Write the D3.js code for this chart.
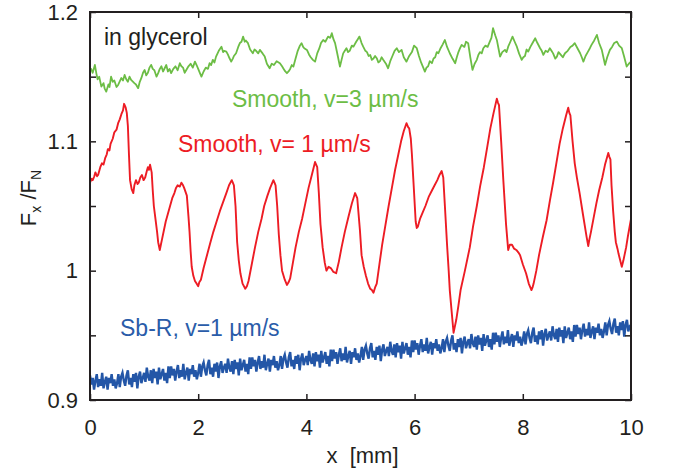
<!DOCTYPE html>
<html>
<head>
<meta charset="utf-8">
<script src="https://cdn.jsdelivr.net/npm/d3@7"></script>
<style>
  body { margin: 0; background: #fff; }
  text { font-family: "Liberation Sans", Arial, sans-serif; }
</style>
</head>
<body>
<svg id="chart" width="676" height="470"></svg>
<script>
// ---- data ----
const xTicks = [0, 2, 4, 6, 8, 10];
const yTicks = [0.9, 0.95, 1.0, 1.05, 1.1, 1.15, 1.2];
const yTickLabels = {"0.9": "0.9", "1": "1", "1.1": "1.1", "1.2": "1.2"};

const greenPoints = [[0.00,1.1552],[0.02,1.1560],[0.05,1.1530],[0.09,1.1591],[0.12,1.1520],[0.14,1.1480],[0.17,1.1500],[0.21,1.1423],[0.25,1.1450],[0.27,1.1410],[0.30,1.1384],[0.34,1.1440],[0.36,1.1420],[0.39,1.1500],[0.42,1.1460],[0.45,1.1470],[0.49,1.1420],[0.52,1.1436],[0.58,1.1490],[0.61,1.1470],[0.64,1.1513],[0.67,1.1480],[0.70,1.1460],[0.73,1.1500],[0.76,1.1475],[0.82,1.1450],[0.85,1.1440],[0.89,1.1411],[0.92,1.1460],[0.95,1.1490],[0.98,1.1530],[1.01,1.1552],[1.04,1.1510],[1.07,1.1530],[1.10,1.1570],[1.13,1.1591],[1.16,1.1560],[1.19,1.1550],[1.23,1.1500],[1.26,1.1527],[1.29,1.1560],[1.32,1.1580],[1.35,1.1540],[1.38,1.1565],[1.41,1.1590],[1.44,1.1540],[1.47,1.1560],[1.50,1.1527],[1.54,1.1560],[1.58,1.1580],[1.62,1.1550],[1.66,1.1604],[1.69,1.1580],[1.72,1.1570],[1.75,1.1530],[1.78,1.1552],[1.82,1.1580],[1.86,1.1600],[1.90,1.1570],[1.94,1.1616],[1.97,1.1590],[2.00,1.1560],[2.03,1.1530],[2.06,1.1500],[2.10,1.1540],[2.14,1.1570],[2.18,1.1560],[2.21,1.1604],[2.24,1.1590],[2.27,1.1630],[2.30,1.1610],[2.33,1.1655],[2.38,1.1700],[2.43,1.1732],[2.46,1.1690],[2.48,1.1700],[2.52,1.1694],[2.55,1.1670],[2.57,1.1650],[2.61,1.1616],[2.64,1.1640],[2.66,1.1660],[2.70,1.1681],[2.74,1.1730],[2.77,1.1760],[2.80,1.1770],[2.83,1.1810],[2.86,1.1770],[2.88,1.1780],[2.92,1.1759],[2.96,1.1710],[3.01,1.1681],[3.04,1.1710],[3.07,1.1700],[3.11,1.1680],[3.14,1.1707],[3.19,1.1680],[3.23,1.1655],[3.27,1.1600],[3.32,1.1565],[3.36,1.1600],[3.40,1.1590],[3.45,1.1620],[3.51,1.1604],[3.55,1.1580],[3.58,1.1560],[3.61,1.1540],[3.64,1.1527],[3.67,1.1540],[3.70,1.1560],[3.73,1.1590],[3.76,1.1578],[3.80,1.1640],[3.84,1.1700],[3.88,1.1740],[3.91,1.1759],[3.94,1.1730],[3.96,1.1720],[4.01,1.1707],[4.05,1.1670],[4.08,1.1650],[4.12,1.1630],[4.16,1.1616],[4.20,1.1680],[4.24,1.1720],[4.27,1.1760],[4.31,1.1784],[4.35,1.1770],[4.40,1.1810],[4.44,1.1800],[4.47,1.1836],[4.50,1.1790],[4.53,1.1759],[4.56,1.1700],[4.58,1.1660],[4.62,1.1578],[4.65,1.1630],[4.68,1.1680],[4.71,1.1700],[4.74,1.1720],[4.77,1.1690],[4.80,1.1700],[4.84,1.1740],[4.87,1.1732],[4.92,1.1770],[4.95,1.1790],[4.98,1.1810],[5.02,1.1760],[5.05,1.1732],[5.09,1.1700],[5.12,1.1690],[5.15,1.1660],[5.18,1.1668],[5.21,1.1630],[5.24,1.1640],[5.27,1.1660],[5.30,1.1643],[5.33,1.1610],[5.36,1.1620],[5.39,1.1650],[5.42,1.1630],[5.47,1.1600],[5.51,1.1565],[5.55,1.1620],[5.59,1.1660],[5.63,1.1700],[5.67,1.1720],[5.71,1.1690],[5.76,1.1707],[5.80,1.1650],[5.85,1.1616],[5.90,1.1660],[5.95,1.1690],[5.99,1.1740],[6.04,1.1720],[6.08,1.1660],[6.12,1.1610],[6.16,1.1570],[6.19,1.1539],[6.22,1.1570],[6.25,1.1580],[6.28,1.1620],[6.32,1.1604],[6.35,1.1640],[6.38,1.1650],[6.41,1.1690],[6.44,1.1681],[6.48,1.1720],[6.52,1.1750],[6.56,1.1784],[6.60,1.1730],[6.65,1.1681],[6.70,1.1640],[6.75,1.1604],[6.78,1.1650],[6.81,1.1690],[6.84,1.1720],[6.87,1.1746],[6.92,1.1730],[6.95,1.1770],[6.99,1.1759],[7.03,1.1650],[7.07,1.1552],[7.11,1.1600],[7.15,1.1630],[7.18,1.1670],[7.21,1.1690],[7.24,1.1680],[7.27,1.1720],[7.31,1.1740],[7.35,1.1730],[7.39,1.1771],[7.42,1.1800],[7.45,1.1875],[7.49,1.1820],[7.52,1.1784],[7.55,1.1720],[7.58,1.1655],[7.62,1.1690],[7.67,1.1707],[7.70,1.1690],[7.73,1.1732],[7.77,1.1770],[7.81,1.1810],[7.85,1.1770],[7.89,1.1732],[7.93,1.1680],[7.98,1.1630],[8.01,1.1650],[8.04,1.1660],[8.07,1.1710],[8.10,1.1694],[8.14,1.1730],[8.18,1.1760],[8.23,1.1797],[8.27,1.1760],[8.32,1.1720],[8.35,1.1700],[8.38,1.1668],[8.42,1.1700],[8.46,1.1690],[8.50,1.1720],[8.53,1.1700],[8.56,1.1680],[8.60,1.1640],[8.63,1.1655],[8.66,1.1690],[8.70,1.1670],[8.74,1.1650],[8.78,1.1681],[8.83,1.1700],[8.88,1.1730],[8.92,1.1740],[8.96,1.1759],[9.01,1.1720],[9.06,1.1681],[9.09,1.1650],[9.12,1.1616],[9.16,1.1660],[9.20,1.1690],[9.24,1.1720],[9.27,1.1746],[9.32,1.1780],[9.37,1.1823],[9.41,1.1760],[9.46,1.1707],[9.49,1.1650],[9.52,1.1591],[9.56,1.1650],[9.61,1.1707],[9.65,1.1730],[9.69,1.1760],[9.74,1.1771],[9.78,1.1740],[9.83,1.1720],[9.87,1.1660],[9.92,1.1578],[9.96,1.1600],[10.00,1.1616]];

const redPoints = [[0,1.068],[0.03,1.071],[0.05,1.070],[0.08,1.073],[0.10,1.076],[0.13,1.073],[0.15,1.074],[0.19,1.080],[0.22,1.083],[0.25,1.082],[0.28,1.087],[0.31,1.090],[0.33,1.094],[0.36,1.093],[0.38,1.098],[0.42,1.102],[0.45,1.107],[0.49,1.109],[0.52,1.114],[0.55,1.117],[0.58,1.121],[0.61,1.124],[0.63,1.129],[0.66,1.126],[0.68,1.122],[0.70,1.112],[0.72,1.090],[0.74,1.070],[0.77,1.063],[0.80,1.060],[0.82,1.066],[0.85,1.070],[0.88,1.067],[0.90,1.068],[0.93,1.072],[0.96,1.074],[0.99,1.070],[1.02,1.072],[1.05,1.077],[1.07,1.080],[1.09,1.078],[1.11,1.082],[1.14,1.076],[1.16,1.062],[1.18,1.050],[1.21,1.040],[1.24,1.030],[1.26,1.022],[1.29,1.016],[1.31,1.020],[1.33,1.024],[1.37,1.032],[1.40,1.038],[1.44,1.044],[1.48,1.050],[1.52,1.056],[1.56,1.060],[1.59,1.064],[1.62,1.066],[1.66,1.065],[1.69,1.068],[1.72,1.066],[1.74,1.064],[1.79,1.058],[1.82,1.042],[1.84,1.030],[1.86,1.015],[1.88,1.003],[1.91,0.996],[1.94,0.992],[1.97,0.990],[2.00,0.988],[2.02,0.991],[2.05,0.993],[2.10,1.002],[2.15,1.010],[2.22,1.021],[2.28,1.030],[2.34,1.038],[2.40,1.046],[2.46,1.053],[2.52,1.060],[2.57,1.066],[2.62,1.070],[2.64,1.068],[2.66,1.066],[2.69,1.050],[2.72,1.022],[2.75,1.008],[2.78,0.998],[2.82,0.990],[2.87,0.986],[2.90,0.988],[2.93,0.992],[2.99,1.005],[3.05,1.018],[3.11,1.030],[3.17,1.040],[3.22,1.050],[3.28,1.058],[3.33,1.064],[3.39,1.070],[3.41,1.068],[3.43,1.066],[3.46,1.050],[3.49,1.028],[3.52,1.012],[3.55,1.000],[3.60,0.993],[3.64,0.989],[3.67,0.991],[3.70,0.994],[3.75,1.006],[3.80,1.018],[3.86,1.030],[3.92,1.040],[3.98,1.052],[4.04,1.064],[4.10,1.074],[4.16,1.084],[4.18,1.082],[4.20,1.080],[4.23,1.060],[4.26,1.036],[4.30,1.018],[4.34,1.006],[4.37,1.000],[4.41,1.003],[4.45,1.002],[4.50,0.999],[4.55,0.998],[4.60,1.007],[4.65,1.018],[4.71,1.030],[4.78,1.042],[4.84,1.052],[4.90,1.060],[4.92,1.058],[4.94,1.056],[4.99,1.031],[5.02,1.012],[5.06,1.003],[5.10,0.996],[5.14,0.990],[5.18,0.986],[5.21,0.985],[5.24,0.983],[5.27,0.987],[5.30,0.990],[5.35,1.005],[5.40,1.020],[5.46,1.035],[5.52,1.050],[5.58,1.064],[5.64,1.078],[5.70,1.090],[5.75,1.100],[5.80,1.108],[5.85,1.114],[5.88,1.111],[5.90,1.110],[5.93,1.102],[5.95,1.090],[5.98,1.068],[6.02,1.038],[6.04,1.033],[6.06,1.034],[6.08,1.037],[6.10,1.040],[6.15,1.045],[6.20,1.050],[6.26,1.057],[6.32,1.062],[6.37,1.066],[6.42,1.070],[6.46,1.074],[6.50,1.077],[6.53,1.072],[6.56,1.050],[6.60,1.020],[6.63,1.000],[6.65,0.985],[6.69,0.966],[6.72,0.952],[6.74,0.956],[6.77,0.962],[6.81,0.973],[6.85,0.985],[6.93,1.000],[7.02,1.018],[7.08,1.034],[7.15,1.050],[7.21,1.065],[7.28,1.080],[7.34,1.095],[7.40,1.110],[7.46,1.122],[7.52,1.133],[7.54,1.130],[7.56,1.128],[7.60,1.100],[7.64,1.070],[7.69,1.036],[7.73,1.016],[7.76,1.020],[7.80,1.020],[7.84,1.017],[7.88,1.016],[7.92,1.014],[7.95,1.012],[8.00,1.005],[8.06,0.998],[8.11,0.990],[8.16,0.985],[8.18,0.987],[8.20,0.990],[8.25,1.000],[8.30,1.012],[8.37,1.026],[8.44,1.039],[8.50,1.054],[8.56,1.068],[8.62,1.083],[8.68,1.098],[8.74,1.110],[8.80,1.120],[8.82,1.123],[8.84,1.126],[8.86,1.122],[8.88,1.120],[8.92,1.100],[8.96,1.083],[9.00,1.072],[9.05,1.060],[9.11,1.044],[9.18,1.026],[9.21,1.019],[9.23,1.024],[9.26,1.030],[9.31,1.041],[9.36,1.052],[9.41,1.062],[9.47,1.072],[9.52,1.082],[9.58,1.091],[9.60,1.088],[9.62,1.086],[9.64,1.066],[9.67,1.046],[9.70,1.030],[9.72,1.022],[9.75,1.017],[9.77,1.013],[9.80,1.008],[9.83,1.003],[9.86,1.008],[9.88,1.012],[9.91,1.018],[9.94,1.026],[9.97,1.033],[10.0,1.040]];

const blueStart = 0, blueStep = 0.025;
const blueValues = [
0.919,0.912,0.917,0.908,0.915,0.920,0.910,0.916,0.911,0.921,0.909,0.914,0.918,0.908,0.917,0.913,0.920,0.911,0.916,0.909,
0.913,0.920,0.910,0.918,0.921,0.915,0.911,0.919,0.923,0.912,0.917,0.910,0.920,0.914,0.921,0.909,0.918,0.922,0.913,0.917,
0.921,0.914,0.925,0.918,0.915,0.923,0.913,0.924,0.917,0.922,0.912,0.925,0.916,0.920,0.924,0.915,0.921,0.913,0.926,0.917,
0.926,0.919,0.924,0.915,0.922,0.927,0.917,0.923,0.918,0.928,0.916,0.921,0.925,0.915,0.924,0.920,0.927,0.918,0.923,0.916,
0.921,0.928,0.918,0.926,0.929,0.923,0.919,0.927,0.931,0.920,0.925,0.918,0.928,0.922,0.929,0.917,0.926,0.930,0.921,0.925,
0.928,0.921,0.932,0.925,0.922,0.930,0.920,0.931,0.924,0.929,0.919,0.932,0.923,0.927,0.931,0.922,0.928,0.920,0.933,0.924,
0.933,0.926,0.931,0.922,0.929,0.934,0.924,0.930,0.925,0.935,0.923,0.928,0.932,0.922,0.931,0.927,0.934,0.925,0.930,0.923,
0.927,0.934,0.924,0.932,0.935,0.929,0.925,0.933,0.937,0.926,0.931,0.924,0.934,0.928,0.935,0.923,0.932,0.936,0.927,0.931,
0.934,0.927,0.938,0.931,0.928,0.936,0.926,0.937,0.930,0.935,0.925,0.938,0.929,0.933,0.937,0.928,0.934,0.926,0.939,0.930,
0.939,0.932,0.937,0.928,0.935,0.940,0.930,0.936,0.931,0.941,0.929,0.934,0.938,0.928,0.937,0.933,0.940,0.931,0.936,0.929,
0.934,0.941,0.931,0.939,0.942,0.936,0.932,0.940,0.944,0.933,0.938,0.931,0.941,0.935,0.942,0.930,0.939,0.943,0.934,0.938,
0.941,0.934,0.945,0.938,0.935,0.943,0.933,0.944,0.937,0.942,0.932,0.945,0.936,0.940,0.944,0.935,0.941,0.933,0.946,0.937,
0.946,0.939,0.944,0.935,0.942,0.947,0.937,0.943,0.938,0.948,0.936,0.941,0.945,0.935,0.944,0.940,0.947,0.938,0.943,0.936,
0.940,0.947,0.937,0.945,0.948,0.942,0.938,0.946,0.950,0.939,0.944,0.937,0.947,0.941,0.948,0.936,0.945,0.949,0.940,0.944,
0.947,0.940,0.951,0.944,0.941,0.949,0.939,0.950,0.943,0.948,0.938,0.951,0.942,0.946,0.950,0.941,0.947,0.939,0.952,0.943,
0.952,0.945,0.950,0.941,0.948,0.953,0.943,0.949,0.944,0.954,0.942,0.947,0.951,0.941,0.950,0.946,0.953,0.944,0.949,0.942,
0.946,0.953,0.943,0.951,0.954,0.948,0.944,0.952,0.956,0.945,0.950,0.943,0.953,0.947,0.954,0.942,0.951,0.955,0.946,0.950,
0.953,0.946,0.957,0.950,0.947,0.955,0.945,0.956,0.949,0.954,0.944,0.957,0.948,0.952,0.956,0.947,0.953,0.945,0.958,0.949,
0.958,0.951,0.956,0.947,0.954,0.959,0.949,0.955,0.950,0.960,0.948,0.953,0.957,0.947,0.956,0.952,0.959,0.950,0.955,0.948,
0.953,0.960,0.950,0.958,0.961,0.955,0.951,0.959,0.963,0.952,0.957,0.950,0.960,0.954,0.961,0.949,0.958,0.962,0.953,0.957,
0.958];

// ---- layout ----
const svg = d3.select("#chart");
const L = 90, R = 631, T = 12, B = 400;
const x = d3.scaleLinear().domain([0, 10]).range([L, R]);
const y = d3.scaleLinear().domain([0.9, 1.2]).range([B, T]);
const ink = "#231f20";

svg.append("clipPath").attr("id", "clip")
  .append("rect").attr("x", L).attr("y", T).attr("width", R - L).attr("height", B - T);

const line = d3.line().x(d => x(d[0])).y(d => y(d[1]));
const plot = svg.append("g").attr("clip-path", "url(#clip)");

plot.append("path").datum(greenPoints).attr("d", line)
  .attr("fill", "none").attr("stroke", "#6cbd45").attr("stroke-width", 1.8).attr("stroke-linejoin", "round");
plot.append("path").datum(redPoints).attr("d", line)
  .attr("fill", "none").attr("stroke", "#ed1c24").attr("stroke-width", 1.9).attr("stroke-linejoin", "round");
const bluePoints = blueValues.map((v, i) => [blueStart + i * blueStep, v]);
plot.append("path").datum(bluePoints).attr("d", line)
  .attr("fill", "none").attr("stroke", "#2356a7").attr("stroke-width", 2.4).attr("stroke-linejoin", "miter");

// axes (inward ticks, mirrored)
const fmtY = d => yTickLabels[String(+d.toFixed(2))] || "";
const axB = d3.axisBottom(x).tickValues(xTicks).tickSizeInner(-6).tickSizeOuter(0).tickPadding(19);
const axT = d3.axisTop(x).tickValues(xTicks).tickSizeInner(-6).tickSizeOuter(0).tickFormat("");
const axL = d3.axisLeft(y).tickValues(yTicks).tickSizeInner(-6).tickSizeOuter(0).tickPadding(12).tickFormat(fmtY);
const axR = d3.axisRight(y).tickValues(yTicks).tickSizeInner(-6).tickSizeOuter(0).tickFormat("");

function style(g) {
  g.select(".domain").remove();
  g.selectAll(".tick line").attr("stroke", ink).attr("stroke-width", 1.5);
  g.selectAll(".tick text").attr("fill", ink).style("font-size", "22px").style("font-family", "'Liberation Sans', Arial, sans-serif");
}
svg.append("g").attr("transform", `translate(0,${B})`).call(axB).call(style);
svg.append("g").attr("transform", `translate(0,${T})`).call(axT).call(style);
svg.append("g").attr("transform", `translate(${L},0)`).call(axL).call(style);
svg.append("g").attr("transform", `translate(${R},0)`).call(axR).call(style);

svg.append("rect").attr("x", L).attr("y", T).attr("width", R - L).attr("height", B - T)
  .attr("fill", "none").attr("stroke", ink).attr("stroke-width", 2);

// labels
svg.append("text").attr("x", 104).attr("y", 45).attr("fill", ink).style("font-size", "23px").text("in glycerol");
svg.append("text").attr("x", 232).attr("y", 107).attr("fill", "#6cbd45").style("font-size", "23px").text("Smooth, v=3 µm/s");
svg.append("text").attr("x", 178).attr("y", 152).attr("fill", "#ed1c24").style("font-size", "23px").text("Smooth, v= 1 µm/s");
svg.append("text").attr("x", 120).attr("y", 336).attr("fill", "#2a5ca9").style("font-size", "23px").text("Sb-R, v=1 µm/s");

svg.append("text").attr("x", (L + R) / 2 + 2).attr("y", 463).attr("text-anchor", "middle")
  .attr("fill", ink).style("font-size", "22px").attr("xml:space", "preserve").text("x  [mm]");

const yl = svg.append("text").attr("transform", "translate(36,198) rotate(-90)")
  .attr("text-anchor", "middle").attr("fill", ink).style("font-size", "22px");
yl.append("tspan").text("F");
yl.append("tspan").attr("dy", 5).style("font-size", "14px").text("x");
yl.append("tspan").attr("dy", -5).text(" /F");
yl.append("tspan").attr("dy", 5).style("font-size", "14px").text("N");
</script>
</body>
</html>
